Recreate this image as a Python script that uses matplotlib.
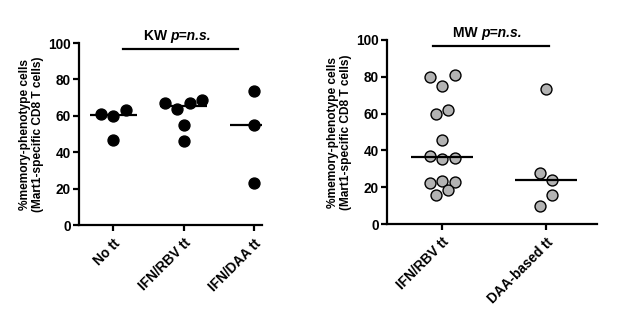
import numpy as np
import matplotlib
matplotlib.use("Agg")
import matplotlib.pyplot as plt

plt.rcParams['font.family'] = ['Liberation Sans', 'DejaVu Sans']
plt.rcParams['font.weight'] = 'bold'

# ---- data ----
left_categories = ["No tt", "IFN/RBV tt", "IFN/DAA tt"]
left_no_tt = [61, 60, 63, 47]
left_ifn_rbv = [67, 64, 67, 69, 55, 46]
left_ifn_daa = [73.5, 55, 23]
left_test = "KW"

right_categories = ["IFN/RBV tt", "DAA-based tt"]
right_ifn_rbv = [80, 75, 81, 60, 62, 45.5, 37, 35.5, 36, 22.5, 23.5, 23, 16, 18.5]
right_daa = [73.5, 27.5, 24, 10, 16]
right_test = "MW"

y_ticks = [0, 20, 40, 60, 80, 100]
ylabel = "%memory-phenotype cells\n(Mart1-specific CD8 T cells)"
p_text = "p=n.s."

W, H, DPI = 617, 310, 100
fig = plt.figure(figsize=(W / DPI, H / DPI), dpi=DPI)


def swarm_offsets(vals, bin_units, spacing):
    order = np.argsort(vals, kind="stable")
    groups = []
    cur = []
    start = None
    for i in order:
        v = vals[i]
        if start is None or v - start >= bin_units:
            if cur:
                groups.append(cur)
            cur = [i]
            start = v
        else:
            cur.append(i)
    if cur:
        groups.append(cur)
    offs = np.zeros(len(vals))
    for g in groups:
        g = sorted(g)
        n = len(g)
        for k, i in enumerate(g):
            offs[i] = (k - (n - 1) / 2) * spacing
    return offs


def panel(rect, cats, groups, xlim, face, half_w, sig_x, sig_text_x, test):
    ax = fig.add_axes(rect)
    ax.set_xlim(*xlim)
    ax.set_ylim(0, 100)
    ax_w_px = rect[2] * W
    ax_h_px = rect[3] * H
    units_per_px = (xlim[1] - xlim[0]) / ax_w_px
    yunits_per_px = 100 / ax_h_px
    spacing = 12.5 * units_per_px
    bin_units = 11.6 * yunits_per_px
    for i, vals in enumerate(groups):
        vals = np.asarray(vals, float)
        offs = swarm_offsets(vals, bin_units, spacing)
        ax.scatter(i + offs, vals, s=62, facecolor=face, edgecolor="black",
                   linewidth=1.0, zorder=3, clip_on=False)
        med = np.median(vals)
        ax.plot([i - half_w, i + half_w], [med, med], color="black", lw=1.6,
                zorder=4, solid_capstyle="butt")
    for s in ["top", "right"]:
        ax.spines[s].set_visible(False)
    for s in ["left", "bottom"]:
        ax.spines[s].set_linewidth(1.6)
    ax.set_yticks(y_ticks)
    ax.set_xticks(range(len(cats)))
    ax.set_xticklabels(cats, rotation=45, ha="right", rotation_mode="anchor",
                       fontsize=8.7, fontweight="bold")
    ax.tick_params(axis="both", direction="out", length=4, width=1.6,
                   labelsize=9.8, pad=2)
    ax.tick_params(axis="x", pad=4)
    for lab in ax.get_yticklabels():
        lab.set_fontweight("bold")
    ax.set_ylabel(ylabel, fontsize=8.6, fontweight="bold", labelpad=3,
                  linespacing=1.05)
    # significance bar
    ax.plot(sig_x, [96.7, 96.7], color="black", lw=1.6, clip_on=False)
    t1 = ax.text(sig_text_x, 104, test + " ", fontsize=10, fontweight="bold",
                 ha="left", va="center", clip_on=False)
    ax.annotate(p_text, xy=(1, 0), xycoords=t1, va="bottom", ha="left",
                fontsize=10, fontweight="bold", fontstyle="italic")
    return ax


panel([0.128, 0.274, 0.297, 0.587], left_categories,
      [left_no_tt, left_ifn_rbv, left_ifn_daa], (-0.49, 2.12), "black",
      0.335, [0.13, 1.77], 0.43, left_test)
panel([0.627, 0.277, 0.341, 0.594], right_categories,
      [right_ifn_rbv, right_daa], (-0.53, 1.49), "#b3b3b3",
      0.30, [-0.09, 1.03], 0.106, right_test)

fig.savefig("out.png", dpi=DPI)
